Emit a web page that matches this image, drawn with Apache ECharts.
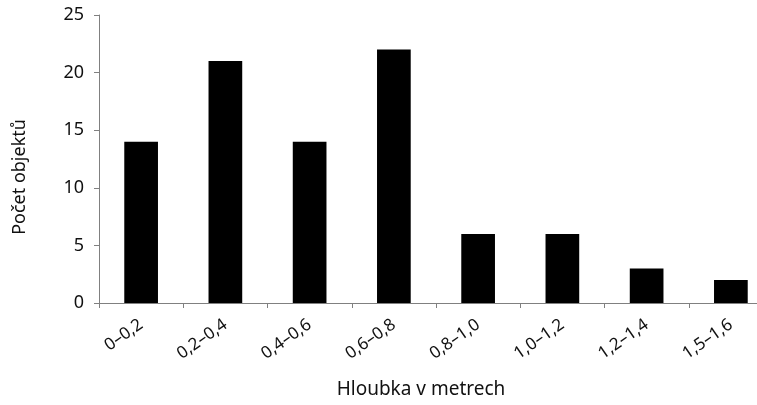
<!DOCTYPE html>
<html><head><meta charset="utf-8">
<script src="https://cdn.jsdelivr.net/npm/echarts@6/dist/echarts.min.js"></script>
<style>html,body{margin:0;padding:0;background:#fff;overflow:hidden}#c{width:773px;height:405px}</style>
</head><body><div id="c"></div>
<script>
const categories = ["0–0,2","0,2–0,4","0,4–0,6","0,6–0,8","0,8–1,0","1,0–1,2","1,2–1,4","1,5–1,6"];
const counts = [14, 21, 14, 22, 6, 6, 3, 2];
const yTicks = [0, 5, 10, 15, 20, 25];
const xTitle = "Hloubka v metrech";
const yTitle = "Počet objektů";

const font = "Noto Sans";
const chart = echarts.init(document.getElementById('c'), null, {renderer: 'canvas'});
chart.setOption({
  animation: false,
  backgroundColor: '#fff',
  textStyle: {fontFamily: font},
  grid: {left: 99, top: 15, right: 0, bottom: 102, containLabel: false},
  xAxis: {
    type: 'category', data: categories,
    axisLine: {lineStyle: {color: '#808080', width: 1}},
    axisTick: {show: true, alignWithLabel: false, length: 5, lineStyle: {color: '#808080'}},
    axisLabel: {rotate: 35, margin: 20, fontSize: 17, color: '#111', fontFamily: font, interval: 0}
  },
  yAxis: {
    type: 'value', min: 0, max: 25, interval: 5,
    splitLine: {show: false},
    axisLine: {show: true, lineStyle: {color: '#808080', width: 1}},
    axisTick: {show: true, length: 5, inside: false, lineStyle: {color: '#808080'}},
    axisLabel: {fontSize: 18, color: '#111', margin: 15, fontFamily: font,
      formatter: v => yTicks.includes(v) ? String(v) : ''}
  },
  graphic: [
    {type: 'text', x: 421, y: 390, style: {text: xTitle, fontSize: 19, fill: '#111', fontFamily: font, textAlign: 'center', textVerticalAlign: 'middle'}},
    {type: 'text', x: 20, y: 177, rotation: Math.PI/2, style: {text: yTitle, fontSize: 18, fill: '#111', fontFamily: font, textAlign: 'center', textVerticalAlign: 'middle'}}
  ],
  series: [{
    type: 'bar', data: counts, barWidth: '40%',
    itemStyle: {color: '#000'}
  }]
});
</script></body></html>
